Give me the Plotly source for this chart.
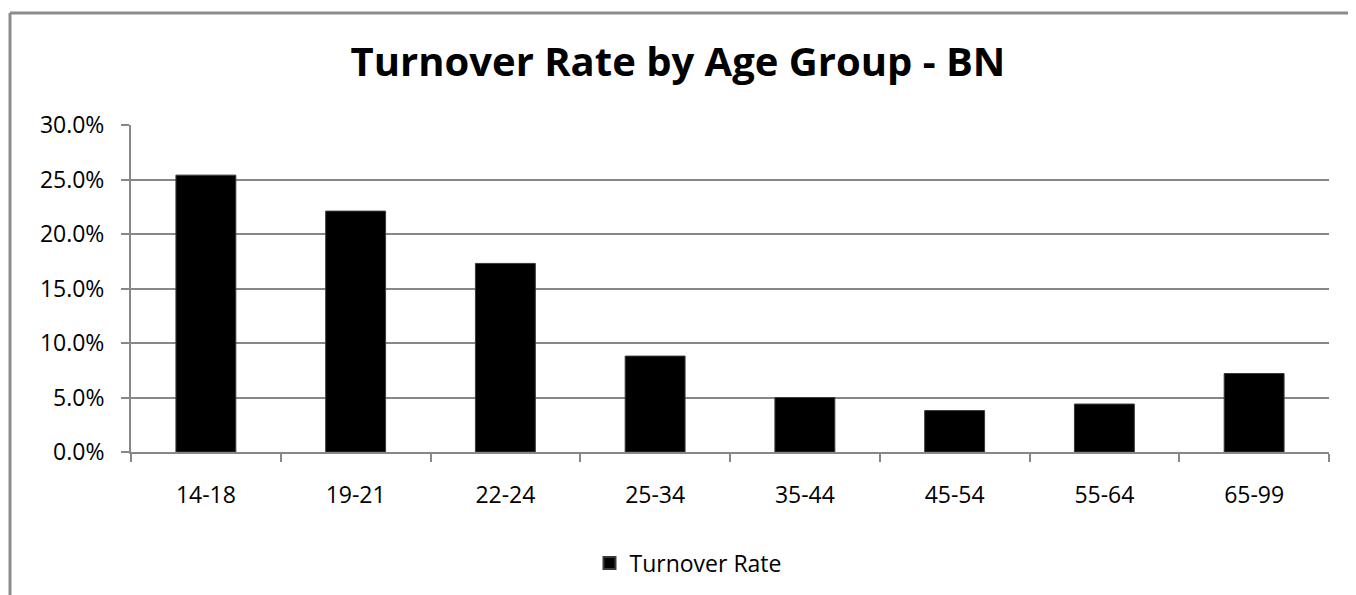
import plotly.graph_objects as go

categories = ["14-18", "19-21", "22-24", "25-34", "35-44", "45-54", "55-64", "65-99"]
turnover_rate = [0.254, 0.221, 0.173, 0.088, 0.050, 0.038, 0.044, 0.072]
y_ticks = [0, 0.05, 0.10, 0.15, 0.20, 0.25, 0.30]
series_name = "Turnover Rate"
title_text = "Turnover Rate by Age Group - BN"

# page body adds an 8px margin, so the figure is sized to fit the window
W, H = 1348, 587
FONT = "Open Sans, Calibri, sans-serif"
GRID = "#878787"

fig = go.Figure()
fig.add_trace(go.Bar(
    x=categories, y=turnover_rate, name=series_name,
    marker=dict(color="#000000", line=dict(color="#3a3a3a", width=1)),
    showlegend=True,
))

fig.update_layout(
    width=W, height=H,
    paper_bgcolor="white", plot_bgcolor="white",
    margin=dict(l=123, r=27, t=117, b=143, pad=0),
    bargap=0.6,
    font=dict(family=FONT, size=23, color="#000000"),
    title=dict(text="<b>" + title_text + "</b>", x=670 / W, xref="container", xanchor="center",
               y=1 - 54 / H, yref="container", yanchor="middle",
               font=dict(family=FONT, size=40, color="#000000")),
    showlegend=True,
    legend=dict(orientation="h", xref="container", yref="container",
                x=680 / W, xanchor="center", y=1 - 555 / H, yanchor="middle",
                font=dict(family=FONT, size=23, color="#000000"),
                itemsizing="constant"),
    xaxis=dict(
        type="category", showgrid=False,
        showline=True, linecolor=GRID, linewidth=2,
        ticks="outside", tickson="boundaries", ticklen=8, tickwidth=2, tickcolor=GRID,
        ticklabelstandoff=21,
        tickfont=dict(family=FONT, size=23, color="#000000"),
    ),
    yaxis=dict(
        range=[0, 0.30], tickvals=y_ticks, tickformat=".1%",
        showgrid=True, gridcolor=GRID, gridwidth=2,
        showline=True, linecolor=GRID, linewidth=2,
        ticks="outside", ticklen=8, tickwidth=2, tickcolor=GRID,
        ticklabelstandoff=12, zeroline=False,
        tickfont=dict(family=FONT, size=23, color="#000000"),
    ),
    shapes=[
        dict(type="line", xref="paper", yref="paper",
             x0=-121 / 1198, x1=1.03, y0=1 + 112 / 327, y1=1 + 112 / 327,
             line=dict(color="#8c8c8c", width=3)),
        dict(type="line", xref="paper", yref="paper",
             x0=-121 / 1198, x1=-121 / 1198, y0=1 + 112 / 327, y1=-0.5,
             line=dict(color="#8c8c8c", width=3)),
    ],
)

fig.write_html("out.html")
